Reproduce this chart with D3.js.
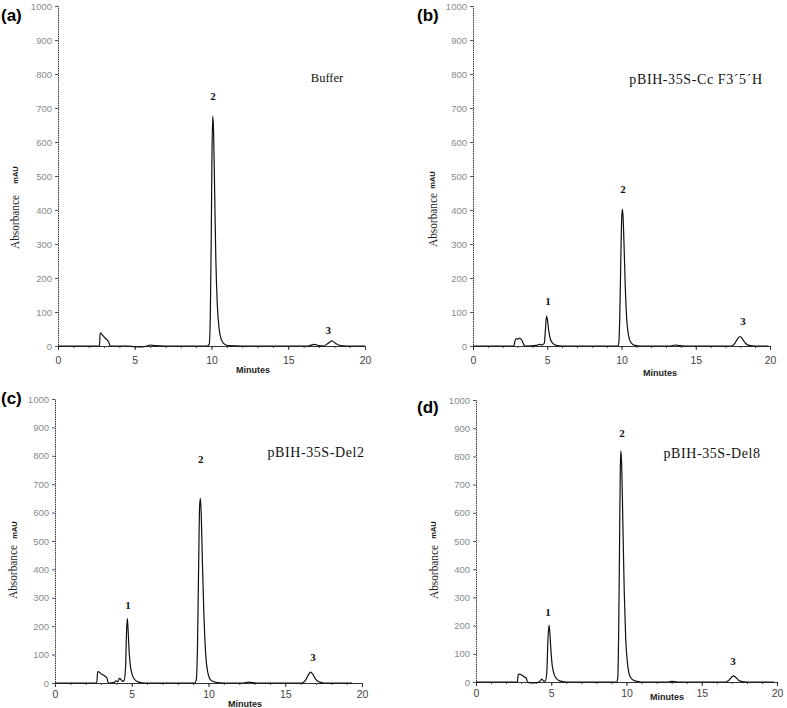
<!DOCTYPE html>
<html><head><meta charset="utf-8">
<script src="https://cdn.jsdelivr.net/npm/d3@7"></script>
<style>body{margin:0;background:#fff}svg{display:block}</style>
</head><body><svg width="787" height="708"></svg>
<script>
// ---------- DATA ----------
const panelLetters = ["(a)", "(b)", "(c)", "(d)"];
const sampleNames = ["Buffer", "pBIH-35S-Cc F3\u00B45\u00B4H", "pBIH-35S-Del2", "pBIH-35S-Del8"];
const yTickValues = [0, 100, 200, 300, 400, 500, 600, 700, 800, 900, 1000];
const xTickValues = [0, 5, 10, 15, 20];
const xMinorTicks = [0,1,2,3,4,5,6,7,8,9,10,11,12,13,14,15,16,17,18,19,20];
const xTitle = "Minutes";
const yTitle = "Absorbance";
const yUnit = "mAU";

// chromatogram traces: [minutes, mAU]
const traceA = [[0,0],[2.7,0],[2.75,39],[2.9,32],[3.1,22],[3.3,12],[3.38,2],[3.45,0],[4.5,0],[5.0,-2],[5.5,-3],[5.8,0],[6.0,3],[6.3,1],[7,0],[9.7,0],[9.85,5],[9.92,80],[9.98,300],[10.03,560],[10.08,676],[10.13,640],[10.2,470],[10.28,260],[10.38,120],[10.5,50],[10.65,18],[10.85,5],[11.1,1],[12,0],[16.3,0],[16.7,5],[17.0,1],[17.3,0],[17.6,8],[17.85,15],[18.1,7],[18.4,1],[18.8,0],[20,0]];
const traceB = [[0,0],[2.75,0],[2.82,14],[2.92,22],[3.05,20],[3.15,23],[3.3,16],[3.42,4],[3.5,0],[4.3,2],[4.5,5],[4.65,3],[4.8,8],[4.88,50],[4.95,88],[5.02,75],[5.1,45],[5.2,22],[5.35,9],[5.6,2],[6,0],[9.75,0],[9.82,10],[9.88,80],[9.94,220],[10.0,360],[10.05,403],[10.1,385],[10.17,300],[10.25,180],[10.35,80],[10.48,30],[10.65,9],[10.9,2],[11.3,0],[13.3,0],[13.6,3],[13.9,1],[14.3,0],[17.4,0],[17.6,6],[17.8,20],[17.98,28],[18.15,20],[18.35,8],[18.6,2],[19,0],[19.9,0]];
const traceC = [[0,0],[2.72,0],[2.78,40],[2.9,38],[3.0,32],[3.1,30],[3.25,24],[3.38,18],[3.45,3],[3.55,0],[3.85,2],[3.97,8],[4.08,4],[4.2,16],[4.3,12],[4.4,6],[4.5,8],[4.6,60],[4.66,180],[4.71,228],[4.76,190],[4.82,120],[4.9,65],[5.0,35],[5.15,15],[5.4,4],[5.8,0],[9.1,0],[9.2,10],[9.28,120],[9.35,380],[9.42,620],[9.47,650],[9.53,590],[9.6,430],[9.7,240],[9.82,100],[9.95,38],[10.15,10],[10.5,2],[11,0],[12.3,0],[12.6,3],[12.9,1],[13.3,0],[16.1,0],[16.3,8],[16.5,28],[16.65,38],[16.8,30],[17.0,12],[17.25,3],[17.5,0],[19.35,0]];
const traceD = [[0,0],[2.75,0],[2.8,25],[2.9,28],[3.0,26],[3.1,22],[3.25,17],[3.35,12],[3.42,0],[3.6,-3],[3.9,-3],[4.1,-1],[4.25,3],[4.37,10],[4.48,4],[4.6,3],[4.7,30],[4.78,150],[4.85,202],[4.9,180],[4.97,120],[5.05,65],[5.15,35],[5.3,15],[5.55,4],[6,0],[9.35,0],[9.42,15],[9.48,180],[9.54,500],[9.59,760],[9.63,820],[9.68,770],[9.76,560],[9.85,320],[9.95,150],[10.08,60],[10.25,18],[10.55,4],[11,0],[12.7,0],[13.0,2],[13.4,0],[16.6,0],[16.8,6],[17.0,18],[17.1,22],[17.25,17],[17.45,6],[17.7,1],[18,0],[19.8,0]];
const traces = [traceA, traceB, traceC, traceD];

// peak numbers with label anchor (minutes, mAU level)
const peaksA = [{n:"2", t:10.1, v:735}, {n:"3", t:17.6, v:47}];
const peaksB = [{n:"1", t:5.05, v:132}, {n:"2", t:10.1, v:463}, {n:"3", t:18.18, v:74}];
const peaksC = [{n:"1", t:4.76, v:275}, {n:"2", t:9.5, v:790}, {n:"3", t:16.8, v:92}];
const peaksD = [{n:"1", t:4.78, v:248}, {n:"2", t:9.7, v:883}, {n:"3", t:17.08, v:74}];
const peaks = [peaksA, peaksB, peaksC, peaksD];

// ---------- LAYOUT ----------
const layout = [
  {x0:58,  x1:365, yT:6,   yB:346, letter:[1,21],   title:[327,82],  ylab:[14,222], unit:[15,175], minutes:[253,373], tlab:16},
  {x0:473, x1:770, yT:6,   yB:346, letter:[417,21], title:[696,84],  ylab:[432,220], unit:[432,180], minutes:[660,376], tlab:16},
  {x0:55,  x1:362, yT:399, yB:683, letter:[1,404],  title:[316,457], ylab:[12,572], unit:[14,530], minutes:[245,707], tlab:13},
  {x0:476, x1:777, yT:400, yB:682, letter:[417,413],title:[712,458], ylab:[433,572], unit:[433,530], minutes:[667,700], tlab:13}
];

const svg = d3.select("svg");

layout.forEach((L, i) => {
  const x = d3.scaleLinear().domain([0, 20]).range([L.x0, L.x1]);
  const y = d3.scaleLinear().domain([0, 1000]).range([L.yB, L.yT]);
  const g = svg.append("g");

  // y axis
  const ya = g.append("g").attr("transform", `translate(${L.x0},0)`)
    .call(d3.axisLeft(y).tickValues(yTickValues).tickFormat(d3.format("d")).tickSize(3).tickPadding(3));
  ya.select(".domain").attr("stroke", "#333").attr("stroke-dasharray", "1.5,0.8");
  ya.selectAll(".tick line").attr("stroke", "#555");
  ya.selectAll(".tick text").attr("fill", "#8a8a8a").style("font", "9.5px 'Liberation Sans', Arial, sans-serif");

  // x axis minor
  g.append("g").attr("transform", `translate(0,${L.yB})`)
    .call(d3.axisBottom(x).tickValues(xMinorTicks).tickSize(2).tickFormat(""))
    .call(s => s.select(".domain").attr("stroke", "#333"))
    .call(s => s.selectAll(".tick line").attr("stroke", "#444"));
  // x axis major
  const xa = g.append("g").attr("transform", `translate(0,${L.yB})`)
    .call(d3.axisBottom(x).tickValues(xTickValues).tickFormat(d3.format("d")).tickSize(4).tickPadding(L.tlab - 9));
  xa.select(".domain").remove();
  xa.selectAll(".tick line").attr("stroke", "#333");
  xa.selectAll(".tick text").attr("fill", "#444").style("font", "10.5px 'Liberation Sans', Arial, sans-serif");

  // axis titles
  g.append("text").attr("x", L.minutes[0]).attr("y", L.minutes[1])
    .attr("text-anchor", "middle").attr("fill", "#222")
    .style("font", "bold 9px 'Liberation Sans', Arial, sans-serif").text(xTitle);
  g.append("text").attr("transform", `translate(${L.ylab[0]},${L.ylab[1]}) rotate(-90)`)
    .attr("text-anchor", "middle").attr("dominant-baseline", "central").attr("fill", "#222")
    .attr("textLength", 54).attr("lengthAdjust", "spacingAndGlyphs")
    .style("font", "13px 'Liberation Serif', 'Times New Roman', serif").text(yTitle);
  g.append("text").attr("transform", `translate(${L.unit[0]},${L.unit[1]}) rotate(-90)`)
    .attr("text-anchor", "middle").attr("dominant-baseline", "central").attr("fill", "#111")
    .style("font", "bold 7.5px 'Liberation Sans', Arial, sans-serif").text(yUnit);

  // panel letter
  g.append("text").attr("x", L.letter[0]).attr("y", L.letter[1]).attr("fill", "#000")
    .style("font", "bold 17px 'Liberation Sans', Arial, sans-serif").text(panelLetters[i]);

  // sample name
  g.append("text").attr("x", L.title[0]).attr("y", L.title[1]).attr("text-anchor", "middle")
    .attr("fill", "#111").attr("letter-spacing", i === 0 ? 0 : 0.6)
    .style("font", (i === 0 ? "12.5px" : "14px") + " 'Liberation Serif', 'Times New Roman', serif")
    .text(sampleNames[i]);

  // trace
  const line = d3.line().x(d => x(d[0])).y(d => y(d[1])).curve(d3.curveMonotoneX);
  g.append("path").datum(traces[i]).attr("d", line)
    .attr("fill", "none").attr("stroke", "#111").attr("stroke-width", 1.2).attr("stroke-linejoin", "round");

  // peak numbers
  g.selectAll(".pk").data(peaks[i]).join("text")
    .attr("x", d => x(d.t)).attr("y", d => y(d.v)).attr("text-anchor", "middle")
    .attr("dominant-baseline", "central").attr("fill", "#111")
    .style("font", "bold 11px 'Liberation Serif', 'Times New Roman', serif").text(d => d.n);
});
</script>
</body></html>
